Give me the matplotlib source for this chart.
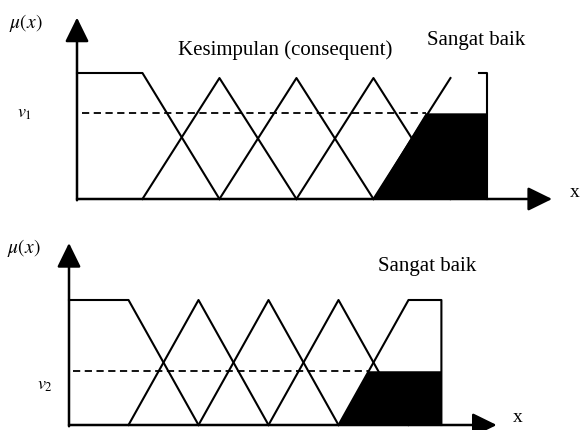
import matplotlib.pyplot as plt

# breakpoints of the output membership functions (in units of one set spacing)
left_x = [0.0, 0.85, 1.85]
left_mu = [1.0, 1.0, 0.0]
tri1_x = [0.85, 1.85, 2.85]
tri2_x = [1.85, 2.85, 3.85]
tri3_x = [2.85, 3.85, 4.85]
right_x = [3.85, 4.85, 5.32, 5.32]
right_mu = [0.0, 1.0, 1.0, 0.0]

# firing strengths
alpha_levels = [0.68, 0.43]
alpha_labels = [r"$v_1$", r"$v_2$"]
peak_heights = [0.96, 1.0]   # top panel peaks are slightly cut in the original
titles = ["Kesimpulan (consequent)", ""]

plt.rcParams["font.family"] = ["Liberation Serif", "DejaVu Serif"]
plt.rcParams["mathtext.fontset"] = "stix"

fig = plt.figure(figsize=(5.81, 4.30), dpi=100)
W, H = 581, 430

# origin (px), px per unit x, px per unit y, arrow tips
panels = [
    dict(ox=77, oy=199, sx=77, sy=126, xtip=6.17, ytip=1.44,
         mu_pos=(-0.66, 1.40), v_pos=(-0.675, 0.68),
         title_pos=(2.71, 1.18), sb_pos=(5.18, 1.26), xl_pos=(6.47, 0.05)),
    dict(ox=69, oy=425, sx=70, sy=125, xtip=6.11, ytip=1.456,
         mu_pos=(-0.64, 1.416), v_pos=(-0.34, 0.32),
         title_pos=(2.7, 1.18), sb_pos=(5.11, 1.264), xl_pos=(6.41, 0.06)),
]

lw = 1.5
arrow = "-|>,head_length=0.55,head_width=0.27"
for i, p in enumerate(panels):
    xmin, xmax, ymin, ymax = -1.0, 6.6, -0.1, 1.5
    left = (p["ox"] + xmin * p["sx"]) / W
    bottom = (H - p["oy"] + ymin * p["sy"]) / H
    ax = fig.add_axes([left, bottom, (xmax - xmin) * p["sx"] / W,
                       (ymax - ymin) * p["sy"] / H])
    ax.set_xlim(xmin, xmax)
    ax.set_ylim(ymin, ymax)
    ax.axis("off")

    pk = peak_heights[i]
    v = alpha_levels[i]

    # clipped consequent (Sangat baik) filled in black
    rise_end = right_x[0] + v * (right_x[1] - right_x[0])
    ax.fill([right_x[0], rise_end, right_x[2], right_x[3]],
            [0, v, v, 0], color="black", lw=0)

    ax.plot(left_x, left_mu, color="black", lw=lw)
    for tx in (tri1_x, tri2_x, tri3_x):
        ax.plot(tx, [0, pk, 0], color="black", lw=lw)
    if i == 0:
        ax.plot(right_x[:2], [0, pk], color="black", lw=lw)
        ax.plot([5.22, right_x[2], right_x[3]], [1.0, 1.0, 0.0], color="black", lw=lw)
    else:
        ax.plot(right_x, right_mu, color="black", lw=lw)

    ax.plot([0.06, rise_end], [v, v], color="black", lw=1.3,
            linestyle=(0, (4, 2.5)))

    # axes with arrows
    ax.annotate("", xy=(p["xtip"], 0), xytext=(0, 0),
                arrowprops=dict(arrowstyle=arrow, mutation_scale=27, lw=1.8,
                                color="black", shrinkA=0, shrinkB=0))
    ax.annotate("", xy=(0, p["ytip"]), xytext=(0, -0.01),
                arrowprops=dict(arrowstyle=arrow, mutation_scale=27, lw=1.8,
                                color="black", shrinkA=0, shrinkB=0))

    ax.text(*p["mu_pos"], r"$\mu(x)$", fontsize=14, ha="center", va="center")
    ax.text(*p["v_pos"], alpha_labels[i], fontsize=13, ha="center", va="center")
    if titles[i]:
        ax.text(*p["title_pos"], titles[i], fontsize=15, ha="center", va="center")
    ax.text(*p["sb_pos"], "Sangat baik", fontsize=15, ha="center", va="center")
    ax.text(*p["xl_pos"], "x", fontsize=14, ha="center", va="center")

fig.savefig("out.png", dpi=100)
